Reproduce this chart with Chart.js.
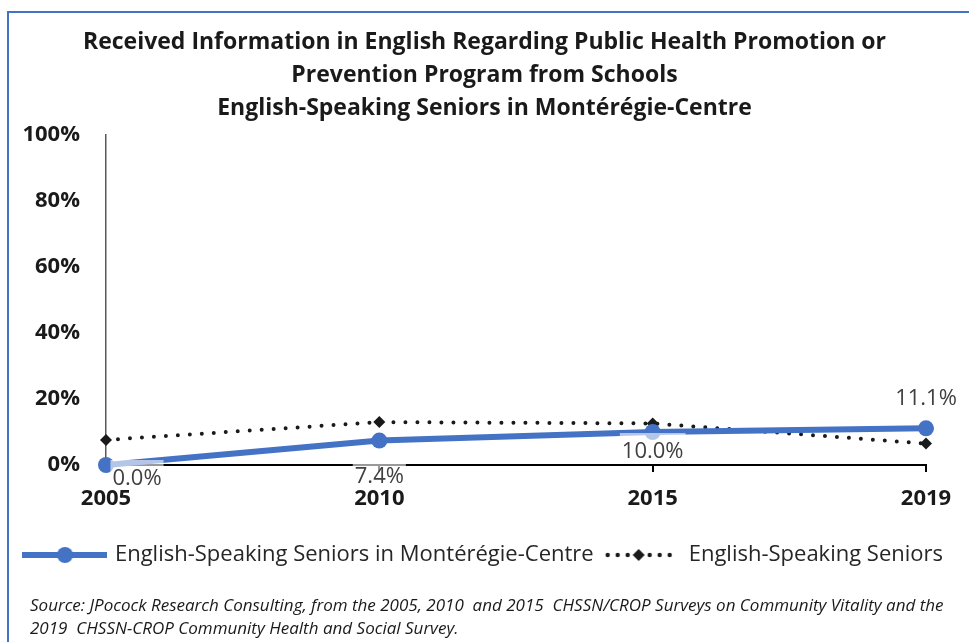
<!DOCTYPE html>
<html>
<head>
<meta charset="utf-8">
<script src="https://cdn.jsdelivr.net/npm/chart.js@4/dist/chart.umd.min.js"></script>
<style>
  html, body { margin: 0; padding: 0; background: #fff; }
  body { width: 969px; height: 642px; position: relative; overflow: hidden; font-family: 'Open Sans', sans-serif; }
  .frame { position: absolute; left: 7px; top: 11px; right: -10px; bottom: -10px;
    border-left: 2px solid #4472c4; border-top: 2px solid #4472c4; }
  .wrap { position: absolute; left: 0; top: 0; width: 969px; height: 642px; }
  .source { position: absolute; left: 30px; top: 593px; font-style: italic; font-size: 17px;
    line-height: 23px; color: #1a1a1a; white-space: pre; }
</style>
</head>
<body>
<div class="frame"></div>
<div class="wrap"><canvas id="myChart"></canvas></div>
<div class="source">Source: JPocock Research Consulting, from the 2005, 2010  and 2015  CHSSN/CROP Surveys on Community Vitality and the
2019  CHSSN-CROP Community Health and Social Survey.</div>
<script>
const years = ['2005', '2010', '2015', '2019'];
const seriesNames = ['English-Speaking Seniors in Montérégie-Centre', 'English-Speaking Seniors'];
const regionValues = [0.0, 7.4, 10.0, 11.1];
const allSeniorsValues = [7.6, 13.0, 12.6, 6.5];
const yTicks = [0, 20, 40, 60, 80, 100];

const blue = '#4472c4';
const dark = '#1a1a1a';

// label offsets from each point (styling only)
const labelOffsets = [[31, 14], [0, 36], [0, 20], [0, -30]];

Chart.defaults.font.family = "'Open Sans'";

// legend symbols
function lineSymbol() {
  const c = document.createElement('canvas');
  c.width = 85; c.height = 18;
  const g = c.getContext('2d');
  g.strokeStyle = blue; g.lineWidth = 6;
  g.beginPath(); g.moveTo(0, 9); g.lineTo(85, 9); g.stroke();
  g.fillStyle = blue;
  g.beginPath(); g.arc(42.5, 9, 8, 0, Math.PI * 2); g.fill();
  return c;
}
function dotSymbol() {
  const c = document.createElement('canvas');
  c.width = 70; c.height = 18;
  const g = c.getContext('2d');
  g.fillStyle = dark;
  [4, 14, 24, 46, 56, 66].forEach(x => { g.beginPath(); g.arc(x, 9, 2.2, 0, Math.PI * 2); g.fill(); });
  g.beginPath(); g.moveTo(35, 3); g.lineTo(41, 9); g.lineTo(35, 15); g.lineTo(29, 9); g.closePath(); g.fill();
  return c;
}

const valueLabels = {
  id: 'valueLabels',
  afterDatasetsDraw(chart) {
    const ctx = chart.ctx;
    const meta = chart.getDatasetMeta(0);
    ctx.save();
    ctx.font = "22px 'Open Sans'";
    ctx.textAlign = 'center';
    ctx.textBaseline = 'middle';
    meta.data.forEach((pt, i) => {
      const text = regionValues[i].toFixed(1) + '%';
      const x = pt.x + labelOffsets[i][0];
      const y = pt.y + labelOffsets[i][1];
      const w = ctx.measureText(text).width + 4;
      ctx.fillStyle = 'rgba(255,255,255,0.6)';
      ctx.fillRect(x - w / 2, y - 19, w, 30);
      ctx.fillStyle = '#404040';
      ctx.fillText(text, x, y);
    });
    ctx.restore();
  }
};

const ctx = document.getElementById('myChart').getContext('2d');
const myChart = new Chart(ctx, {
  type: 'line',
  data: {
    labels: years,
    datasets: [
      {
        label: seriesNames[0],
        data: regionValues,
        borderColor: blue,
        backgroundColor: blue,
        borderWidth: 6,
        pointRadius: 8,
        pointBackgroundColor: blue,
        pointBorderWidth: 0,
        tension: 0,
        clip: false,
      },
      {
        label: seriesNames[1],
        data: allSeniorsValues,
        borderColor: dark,
        backgroundColor: dark,
        borderWidth: 4,
        borderDash: [0, 12],
        borderCapStyle: 'round',
        pointStyle: 'rectRot',
        pointRadius: 6,
        pointBorderWidth: 0,
        pointBackgroundColor: dark,
        tension: 0,
        clip: false,
      },
    ],
  },
  options: {
    responsive: true,
    maintainAspectRatio: false,
    animation: false,
    layout: { padding: { left: 0, top: 0, right: 0, bottom: 66 } },
    scales: {
      x: {
        type: 'category',
        offset: false,
        grid: { display: true, drawOnChartArea: false, drawTicks: true, tickLength: 7, color: '#000', lineWidth: 2 },
        border: { color: '#000', width: 2 },
        ticks: { color: dark, font: { size: 22, weight: 'bold' }, padding: 14, maxRotation: 0 },
        afterFit(scale) { scale.height = 73; scale.paddingRight = 43; },
      },
      y: {
        min: 0,
        max: 100,
        afterBuildTicks(scale) { scale.ticks = yTicks.map(v => ({ value: v })); },
        grid: { display: false, drawTicks: false },
        border: { display: true, color: '#595959', width: 1.5 },
        ticks: { color: dark, font: { size: 22, weight: 'bold' }, padding: 26, callback: v => v + '%' },
        afterFit(scale) { scale.width = 106; },
      },
    },
    plugins: {
      title: {
        display: true,
        text: [
          'Received Information in English Regarding Public Health Promotion or',
          'Prevention Program from Schools',
          'English-Speaking Seniors in Montérégie-Centre',
        ],
        color: dark,
        font: { size: 23, weight: 'bold', lineHeight: '33px' },
        padding: { top: 25.5, bottom: 10.5 },
      },
      legend: {
        position: 'bottom',
        labels: {
          usePointStyle: true,
          pointStyleWidth: 78,
          padding: 6,
          color: '#262626',
          font: { size: 22 },
          generateLabels: () => [
            { text: seriesNames[0], pointStyle: lineSymbol(), fillStyle: 'transparent', strokeStyle: 'transparent', lineWidth: 0, datasetIndex: 0, fontColor: '#262626' },
            { text: seriesNames[1], pointStyle: dotSymbol(), fillStyle: 'transparent', strokeStyle: 'transparent', lineWidth: 0, datasetIndex: 1, fontColor: '#262626' },
          ],
        },
      },
      tooltip: { enabled: false },
    },
  },
  plugins: [valueLabels],
});
</script>
</body>
</html>
